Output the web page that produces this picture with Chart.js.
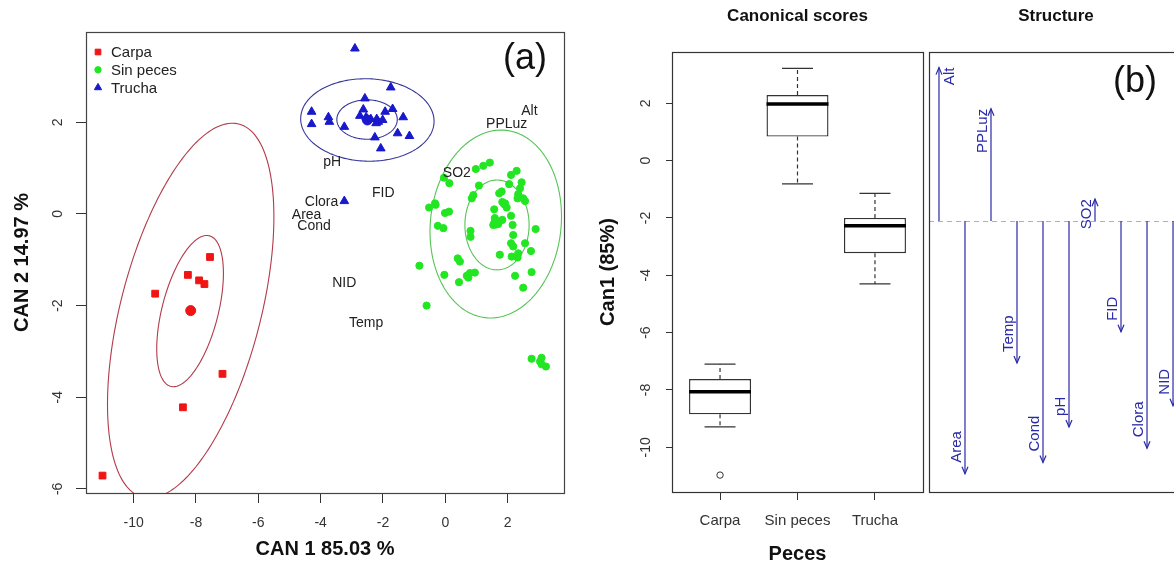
<!DOCTYPE html>
<html>
<head>
<meta charset="utf-8">
<script src="https://cdn.jsdelivr.net/npm/chart.js@4.4.1/dist/chart.umd.min.js"></script>
<style>
  html, body { margin: 0; padding: 0; background: #fff; }
  body { position: relative; width: 1174px; height: 567px; overflow: hidden; }
  canvas { position: absolute; top: 0; }
  #scores { left: 0; }
  #boxes { left: 580px; }
  #structure { left: 926px; }
</style>
</head>
<body>
<canvas id="scores" width="580" height="567"></canvas>
<canvas id="boxes" width="348" height="567"></canvas>
<canvas id="structure" width="264" height="567"></canvas>
<script>
const groups = ['Carpa', 'Sin peces', 'Trucha'];

// canonical scores per lake (CAN 1, CAN 2)
const carpaCan1 = [-7.55, -8.26, -7.90, -7.73, -9.31, -7.15, -8.42, -11.00];
const carpaCan2 = [-0.94, -1.33, -1.45, -1.53, -1.74, -3.49, -4.22, -5.71];

const sinPecesCan1 = [0.98, 1.22, 1.43, -0.04, 0.13, 1.08, 0.90, 1.81, 1.73, 2.11, 2.29, 2.05, 2.45, 2.40, 2.34, 2.50, 1.92, -0.33,
  -0.52, -0.31, -0.01, 0.12, -0.24, -0.06, -0.83, -0.60, -0.03, 0.40, 0.47, 0.44, 0.69, 0.79, 0.95, 0.74, 0.85, 0.81, 0.81, 1.57,
  1.89, 1.97, 1.59, 1.54, 1.70, 1.83, 2.11, 2.16, 2.18, 2.11, 2.18, 1.75, 2.13, 2.34, 2.32, 2.56, 2.75, 2.90, 2.24, 2.50, 2.77,
  2.32, 2.56, 1.83, 2.77, 3.04, 3.09, 3.23, 3.09];
const sinPecesCan2 = [0.98, 1.05, 1.12, 0.79, 0.67, 0.62, 0.41, 0.49, 0.45, 0.85, 0.94, 0.65, 0.69, 0.56, 0.43, 0.34, 0.23, 0.23,
  0.14, 0.20, 0.02, 0.05, -0.26, -0.31, -1.13, -2.00, -1.33, -0.97, -1.04, -1.49, -1.35, -1.29, -1.28, -1.39, 0.34, -0.37, -0.50, 0.10,
  0.21, 0.14, -0.09, -0.24, -0.22, -0.13, -0.04, -0.24, -0.46, -0.64, -0.71, -0.89, -0.93, -0.86, -0.95, -0.64, -0.81, -0.33, -1.35,
  -1.61, -1.27, 0.34, 0.28, 0.26, -3.16, -3.22, -3.28, -3.33, -3.14];

const truchaCan1 = [-2.90, -1.75, -4.29, -4.29, -3.75, -3.72, -3.24, -2.58, -2.63, -2.74, -2.20, -2.15, -2.22, -1.93, -1.69, -2.01,
  -1.35, -2.26, -1.53, -1.15, -2.07, -3.24, -2.39, -2.54];
const truchaCan2 = [3.61, 2.76, 2.23, 1.96, 2.11, 2.01, 1.90, 2.52, 2.28, 2.14, 2.07, 2.01, 1.98, 2.23, 2.29, 2.05, 2.11, 1.67, 1.76,
  1.70, 1.43, 0.28, 2.07, 2.11];

// group means
const centroidCan1 = [-8.17, 1.62, -2.50];
const centroidCan2 = [-2.11, -0.20, 2.05];

// data ellipses, two per group: centre, half-range on each axis, correlation
const ellipseGroup = [0, 0, 1, 1, 2, 2];
const ellipseCx = [-8.17, -8.19, 1.62, 1.66, -2.50, -2.51];
const ellipseCy = [-2.11, -2.12, -0.22, -0.24, 2.05, 2.06];
const ellipseSx = [2.67, 1.07, 2.11, 1.03, 2.14, 0.97];
const ellipseSy = [4.09, 1.65, 2.05, 0.98, 0.90, 0.43];
const ellipseR = [0.50, 0.50, 0.08, 0.0, -0.03, 0.0];

// environmental variables: label position in the score plot and structure coefficient on Can1
const variables = ['Alt', 'Area', 'PPLuz', 'Temp', 'Cond', 'pH', 'SO2', 'FID', 'Clora', 'NID'];
const labelCan1 = [2.70, -4.45, 1.97, -2.54, -4.21, -3.63, 0.37, -1.99, -3.97, -3.24];
const labelCan2 = [2.25, -0.02, 1.96, -2.38, -0.26, 1.13, 0.89, 0.46, 0.26, -1.51];
const structureCan1 = [0.54, -0.89, 0.395, -0.50, -0.85, -0.725, 0.077, -0.39, -0.80, -0.65];

// Can1 box plot statistics
const boxLow = [-9.29, -0.81, -4.30];
const boxQ1 = [-8.85, 0.84, -3.23];
const boxMedian = [-8.06, 1.98, -2.27];
const boxQ3 = [-7.62, 2.29, -2.00];
const boxHigh = [-7.10, 3.22, -1.14];
const boxOutliers = [[-10.97], [], []];

const FONT = '"Liberation Sans", Arial, Helvetica, sans-serif';
Chart.defaults.font.family = FONT;
Chart.defaults.color = '#222';

const groupColors = ['#f01414', '#22e622', '#1818cc'];
const ellipseColors = ['#b23a4a', '#55c455', '#36369a'];
const pointStyles = ['rect', 'circle', 'triangle'];
const pointRadii = [4.8, 3.6, 5];
const blue = '#2a2aa8';

const toPoints = (xs, ys) => xs.map((x, i) => ({ x, y: ys[i] }));

function crispRect(ctx, a, color) {
  ctx.strokeStyle = color;
  ctx.lineWidth = 1.2;
  ctx.strokeRect(Math.round(a.left) + 0.5, Math.round(a.top) + 0.5,
    Math.round(a.width), Math.round(a.height));
}

// ---------- (a) canonical score plot ----------
const scoresDecor = {
  id: 'scoresDecor',
  beforeDatasetsDraw(chart) {
    const { ctx, chartArea: a, scales: { x, y } } = chart;
    ctx.save();
    ctx.beginPath();
    ctx.rect(a.left, a.top, a.width, a.height);
    ctx.clip();
    ctx.lineWidth = 1.1;
    ellipseCx.forEach((cx, k) => {
      const r = ellipseR[k], q = Math.sqrt(1 - r * r);
      ctx.strokeStyle = ellipseColors[ellipseGroup[k]];
      ctx.beginPath();
      for (let i = 0; i <= 200; i++) {
        const t = i / 200 * 2 * Math.PI;
        const px = x.getPixelForValue(cx + ellipseSx[k] * Math.cos(t));
        const py = y.getPixelForValue(ellipseCy[k] + ellipseSy[k] * (r * Math.cos(t) + q * Math.sin(t)));
        if (i) ctx.lineTo(px, py); else ctx.moveTo(px, py);
      }
      ctx.stroke();
    });
    ctx.restore();
  },
  afterDatasetsDraw(chart) {
    const { ctx, chartArea: a, scales: { x, y } } = chart;
    ctx.save();
    ctx.font = '14px ' + FONT;
    ctx.fillStyle = '#222';
    ctx.textAlign = 'center';
    ctx.textBaseline = 'middle';
    variables.forEach((v, i) => {
      ctx.fillText(v, x.getPixelForValue(labelCan1[i]), y.getPixelForValue(labelCan2[i]));
    });

    // legend
    ctx.font = '15px ' + FONT;
    ctx.textAlign = 'left';
    groups.forEach((g, i) => {
      const ly = a.top + 20 + i * 17.8;
      ctx.fillStyle = groupColors[i];
      ctx.strokeStyle = groupColors[i];
      Chart.helpers.drawPoint(ctx, { pointStyle: pointStyles[i], radius: [4, 3.2, 4.2][i], rotation: 0, borderWidth: 1 }, a.left + 12, ly);
      ctx.fillStyle = '#222';
      ctx.fillText(g, a.left + 25, ly + 1);
    });

    ctx.font = '36px ' + FONT;
    ctx.textAlign = 'center';
    ctx.fillStyle = '#111';
    ctx.fillText('(a)', a.right - 39, a.top + 27);

    crispRect(ctx, a, '#444');
    ctx.restore();
  }
};

const scoreSets = [[carpaCan1, carpaCan2], [sinPecesCan1, sinPecesCan2], [truchaCan1, truchaCan2]].map(([cx, cy], i) => ({
  label: groups[i],
  data: toPoints(cx, cy),
  pointStyle: pointStyles[i],
  pointRadius: pointRadii[i],
  backgroundColor: groupColors[i],
  borderColor: groupColors[i],
  borderWidth: 1
}));

new Chart(document.getElementById('scores'), {
  type: 'scatter',
  data: {
    datasets: [
      ...scoreSets,
      {
        label: 'means',
        data: toPoints(centroidCan1, centroidCan2),
        order: -1,
        pointStyle: 'circle',
        pointRadius: 5,
        backgroundColor: groupColors,
        borderColor: groupColors,
        borderWidth: 1
      }
    ]
  },
  options: {
    responsive: false,
    animation: false,
    layout: { padding: { left: 0, right: 16, top: 32, bottom: 0 } },
    plugins: { legend: { display: false }, tooltip: { enabled: false } },
    scales: {
      x: {
        type: 'linear', min: -11.53, max: 3.81,
        afterFit: s => { s.height = 74; },
        border: { display: false },
        grid: { drawOnChartArea: false, tickLength: 10, color: '#333' },
        ticks: { stepSize: 2, includeBounds: false, padding: 12, color: '#333', font: { size: 14 } },
        title: { display: true, text: 'CAN 1 85.03 %', color: '#111', font: { size: 20, weight: 'bold' }, padding: { bottom: 6 } }
      },
      y: {
        type: 'linear', min: -6.09, max: 3.97,
        afterFit: s => { s.width = 86; },
        border: { display: false },
        grid: { drawOnChartArea: false, tickLength: 10, color: '#333' },
        ticks: { stepSize: 2, includeBounds: false, minRotation: 90, maxRotation: 90, crossAlign: 'center', padding: 12, color: '#333', font: { size: 14 } },
        title: { display: true, text: 'CAN 2 14.97 %', color: '#111', font: { size: 20, weight: 'bold' }, padding: { top: 10 } }
      }
    }
  },
  plugins: [scoresDecor]
});

// ---------- box plot of Can1 scores ----------
const whiskerPoints = [];
const capPoints = [];
const medianPoints = [];
const outlierPoints = [];
groups.forEach((g, i) => {
  const c = i + 1;
  whiskerPoints.push({ x: c, y: boxQ3[i] }, { x: c, y: boxHigh[i] }, { x: c, y: null },
    { x: c, y: boxQ1[i] }, { x: c, y: boxLow[i] }, { x: c, y: null });
  capPoints.push({ x: c - 0.2, y: boxHigh[i] }, { x: c + 0.2, y: boxHigh[i] }, { x: c, y: null },
    { x: c - 0.2, y: boxLow[i] }, { x: c + 0.2, y: boxLow[i] }, { x: c, y: null });
  medianPoints.push({ x: c - 0.4, y: boxMedian[i] }, { x: c + 0.4, y: boxMedian[i] }, { x: c, y: null });
  boxOutliers[i].forEach(v => outlierPoints.push({ x: c, y: v }));
});

const boxesDecor = {
  id: 'boxesDecor',
  afterDatasetsDraw(chart) {
    const { ctx, chartArea: a } = chart;
    ctx.save();
    crispRect(ctx, a, '#333');
    ctx.restore();
  }
};

new Chart(document.getElementById('boxes'), {
  type: 'bar',
  data: {
    datasets: [
      {
        type: 'bar',
        order: 10,
        data: groups.map((g, i) => ({ x: i + 1, y: [boxQ1[i], boxQ3[i]] })),
        backgroundColor: '#fff',
        borderColor: '#333',
        borderWidth: 1.4,
        borderSkipped: false,
        categoryPercentage: 1,
        barPercentage: 0.8
      },
      { type: 'line', order: 2, data: whiskerPoints, borderColor: '#333', borderWidth: 1.2, borderDash: [4, 3], pointRadius: 0, spanGaps: false },
      { type: 'line', order: 1, data: capPoints, borderColor: '#333', borderWidth: 1.2, pointRadius: 0, spanGaps: false },
      { type: 'line', order: 0, data: medianPoints, borderColor: '#000', borderWidth: 3.5, borderCapStyle: 'butt', pointRadius: 0, spanGaps: false },
      { type: 'scatter', order: 0, data: outlierPoints, pointStyle: 'circle', pointRadius: 3.2, backgroundColor: 'rgba(0,0,0,0)', borderColor: '#333', borderWidth: 1 }
    ]
  },
  options: {
    responsive: false,
    animation: false,
    layout: { padding: { left: 0, right: 2, top: 0, bottom: 0 } },
    plugins: {
      legend: { display: false },
      tooltip: { enabled: false },
      title: {
        display: true, text: 'Canonical scores', fullSize: false, color: '#111',
        font: { size: 17, weight: 'bold' }, padding: { top: 6, bottom: 25.6 }
      }
    },
    scales: {
      x: {
        type: 'linear', min: 0.38, max: 3.62, offset: false,
        afterFit: s => { s.height = 75; },
        border: { display: false },
        grid: { drawOnChartArea: false, offset: false, tickLength: 8, color: '#333' },
        ticks: { stepSize: 1, includeBounds: false, padding: 12, color: '#333', font: { size: 15 },
          callback: v => groups[v - 1] ?? '' },
        title: { display: true, text: 'Peces', color: '#111', font: { size: 20, weight: 'bold' }, padding: { bottom: 1 } }
      },
      y: {
        type: 'linear', min: -11.56, max: 3.79, beginAtZero: false,
        afterFit: s => { s.width = 92; },
        border: { display: false },
        grid: { drawOnChartArea: false, tickLength: 6, color: '#333' },
        ticks: { stepSize: 2, includeBounds: false, minRotation: 90, maxRotation: 90, crossAlign: 'center', padding: 10, color: '#333', font: { size: 14 } },
        title: { display: true, text: 'Can1 (85%)', color: '#111', font: { size: 20, weight: 'bold' }, padding: { top: 16 } }
      }
    }
  },
  plugins: [boxesDecor]
});

// ---------- (b) structure coefficients ----------
const shaftPoints = [];
structureCan1.forEach((v, i) => {
  shaftPoints.push({ x: i + 1, y: 0 }, { x: i + 1, y: v }, { x: i + 1, y: null });
});

const structureDecor = {
  id: 'structureDecor',
  beforeDatasetsDraw(chart) {
    const { ctx, chartArea: a, scales: { y } } = chart;
    const y0 = Math.round(y.getPixelForValue(0)) + 0.5;
    ctx.save();
    ctx.strokeStyle = '#b0b0b0';
    ctx.lineWidth = 1;
    ctx.setLineDash([5, 4]);
    ctx.beginPath();
    ctx.moveTo(a.left, y0);
    ctx.lineTo(a.right, y0);
    ctx.stroke();
    ctx.restore();
  },
  afterDatasetsDraw(chart) {
    const { ctx, chartArea: a, scales: { x, y } } = chart;
    ctx.save();
    ctx.strokeStyle = blue;
    ctx.fillStyle = blue;
    ctx.lineWidth = 1.2;
    ctx.font = '15px ' + FONT;
    ctx.textBaseline = 'middle';
    structureCan1.forEach((v, i) => {
      const px = x.getPixelForValue(i + 1);
      const tip = y.getPixelForValue(v);
      const dir = v > 0 ? 1 : -1;
      ctx.beginPath();
      ctx.moveTo(px - 3, tip + dir * 7);
      ctx.lineTo(px, tip);
      ctx.lineTo(px + 3, tip + dir * 7);
      ctx.stroke();

      let lx = px - 8.5;
      if (lx - 7 < a.left) lx = px + 11;
      ctx.save();
      ctx.translate(lx, v > 0 ? tip : tip - 11);
      ctx.rotate(-Math.PI / 2);
      ctx.textAlign = v > 0 ? 'right' : 'left';
      ctx.fillText(variables[i], 0, 0);
      ctx.restore();
    });

    ctx.font = '36px ' + FONT;
    ctx.textAlign = 'center';
    ctx.fillStyle = '#111';
    ctx.fillText('(b)', a.left + 206, a.top + 30);

    crispRect(ctx, a, '#333');
    ctx.restore();
  }
};

new Chart(document.getElementById('structure'), {
  type: 'scatter',
  data: {
    datasets: [
      { data: shaftPoints, showLine: true, spanGaps: false, borderColor: blue, borderWidth: 1.2, pointRadius: 0 }
    ]
  },
  options: {
    responsive: false,
    animation: false,
    layout: { padding: { left: 3, right: 7, top: 0, bottom: 75 } },
    plugins: {
      legend: { display: false },
      tooltip: { enabled: false },
      title: {
        display: true, text: 'Structure', fullSize: false, color: '#111',
        font: { size: 17, weight: 'bold' }, padding: { top: 6, bottom: 25.6 }
      }
    },
    scales: {
      x: { type: 'linear', min: 0.616, max: 10.384, display: false },
      y: { type: 'linear', min: -0.954, max: 0.595, display: false }
    }
  },
  plugins: [structureDecor]
});
</script>
</body>
</html>
